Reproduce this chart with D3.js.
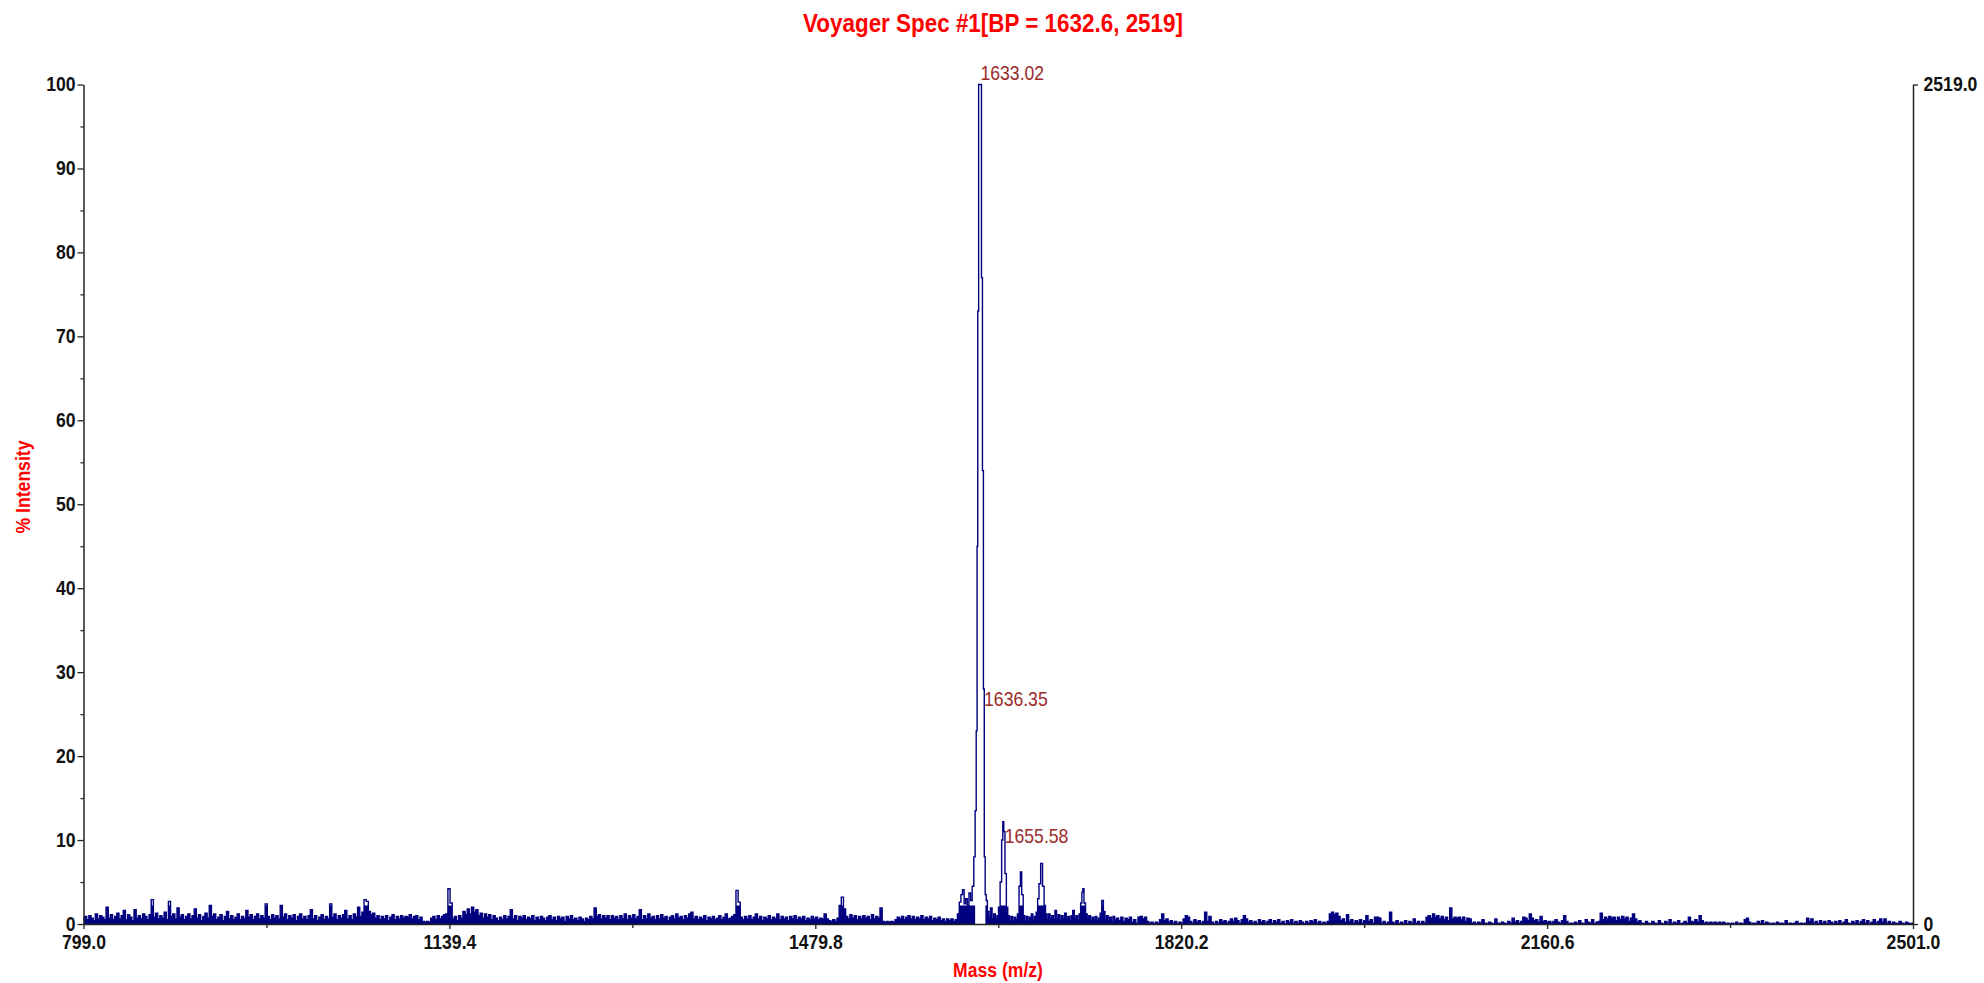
<!DOCTYPE html>
<html>
<head>
<meta charset="utf-8">
<script src="https://cdn.jsdelivr.net/npm/d3@7"></script>
<style>
  html, body { margin: 0; padding: 0; background: #fff; }
  svg { display: block; font-family: "Liberation Sans", Arial, sans-serif; }
</style>
</head>
<body>
<svg id="chart" width="1984" height="983"></svg>
<script>
// ---------------- DATA ----------------
const titleText = "Voyager Spec #1[BP = 1632.6, 2519]";
const xAxisTitle = "Mass (m/z)";
const yAxisTitle = "% Intensity";
const xDomain = [799.0, 2501.0];
const xMajorTicks = [799.0, 1139.4, 1479.8, 1820.2, 2160.6, 2501.0];
const xMinorTicks = [969.2, 1309.6, 1650.0, 1990.4, 2330.8];
const yMajorTicks = [0, 10, 20, 30, 40, 50, 60, 70, 80, 90, 100];
const yMinorTicks = [5, 15, 25, 35, 45, 55, 65, 75, 85, 95];
const rightAxisMax = 2519.0;
const rightTicks = [0, 2519.0];

// noise segments on a 2 Da m/z grid (start mass, % intensity values)
const seg1Start = 799;
const seg1 = [0.6,0.9,0.5,1.0,0.7,0.4,1.2,0.6,1.0,0.8,0.5,2.0,0.7,1.1,0.5,0.9,1.3,0.6,1.0,1.6,
0.5,1.1,0.8,0.4,1.7,0.7,1.0,0.6,1.2,0.9,0.5,1.1,2.9,0.8,1.3,0.6,1.0,0.7,1.4,0.5,
2.7,0.9,1.2,0.6,1.9,0.8,1.1,0.5,0.9,1.2,0.6,1.0,1.8,0.7,1.1,0.4,0.9,1.3,0.7,2.2,
0.9,1.2,0.5,0.8,1.1,0.4,0.9,1.5,0.6,1.0,0.5,0.8,1.2,0.5,0.9,0.6,1.6,0.8,1.1,0.5,
0.9,1.2,0.6,1.0,0.7,2.4,0.9,0.5,1.1,0.7,1.0,0.6,2.2,0.8,1.2,0.5,1.0,0.7,1.1,0.4,
0.9,1.2,0.6,0.9,0.5,1.0,1.7,0.6,1.0,0.4,0.8,1.1,0.5,0.9,0.6,2.4,0.8,1.2,0.5,1.0,
0.7,1.1,1.6,0.6,1.0,0.5,1.2,0.8,2.0,0.9,1.4,2.9,2.7,1.5,1.1,1.3,0.7,1.0,0.5,0.9,
0.6,1.0,0.4,0.8,1.1,0.5,0.9,0.6,1.0,0.7,0.9];

const seg2Start = 1101;
const seg2 = [0.8,1.1,0.6,0.9,1.0,0.5,0.8,0.3,0.2,0.3,0.2,0.7,0.9,0.5,1.0,0.6,0.9,1.1,1.2,4.2,
2.5,0.6,0.9,0.4,1.0,0.7,1.5,1.1,1.8,1.2,2.0,1.4,1.7,1.0,1.3,0.7,1.2,0.8,1.1,0.5,
1.0,0.7,0.4,0.8,0.5,1.0,0.6,0.9,1.7,0.6,1.0,0.4,0.9,0.7,1.0,0.5,0.8,0.6,1.0,0.4,
0.8,0.5,0.9,0.7,0.4,0.8,1.0,0.5,0.8,0.4,0.9,0.6,0.8,0.3,0.9,0.6,1.0,0.5,0.7,0.4,
0.8,0.6,0.3,0.7,0.5,0.9,0.6,1.9,0.9,1.1,0.6,1.0,0.7,1.0,0.5,1.0,0.7,0.9,0.5,1.0,
0.6,1.2,0.5,1.0,0.7,1.1,0.6,0.9,1.7,0.5,1.0,0.6,1.2,0.7,0.9,0.5,1.0,0.6,1.1,0.7,
0.9,0.4,0.8,1.0,0.6,1.2,0.7,0.9,0.5,1.0,0.7,1.2,1.4,0.6,0.9,0.5,0.8,0.6,1.0,0.4,
0.8,0.6,0.9,0.5,0.7,1.0,0.5,0.8,1.2,0.6];

const seg3Start = 1401;
const seg3 = [0.7,0.9,1.1,4.0,2.6,0.8,0.5,0.9,0.6,1.0,0.5,0.8,1.2,0.6,0.9,0.4,0.8,0.6,1.0,0.5,
0.8,0.6,1.2,0.5,0.9,0.6,0.8,0.4,0.9,0.6,1.0,0.5,0.8,0.6,0.9,0.4,0.7,0.5,0.9,0.6,
0.8,0.5,0.7,0.6,1.2,0.6,0.4,0.3,0.5,0.3,0.7,2.2,3.2,1.8,0.9,0.6,1.1,0.7,1.0,0.5,
0.9,0.6,1.0,0.7,0.9,0.5,1.1,0.6,0.9,0.7,1.9,0.3,0.2,0.3,0.2,0.3,0.2,0.5,0.8,0.6,
0.9,0.5,0.8,1.0,0.6,0.9,0.5,0.8,0.6,1.0,0.5,0.8,0.6,0.9,0.4,0.7,0.5,0.8,0.4,0.6,
0.3,0.6,0.4,0.6,0.3];

// main peak cluster, explicit m/z
const peakMz = [1611,1613,1614.5,1616,1617.5,1619,1620.5,1622,1623.5,1625,1626.5,1628,1629,1630,1630.6,1631.3,1632.2,1633.02,1634,1634.8,
1635.8,1636.6,1637.4,1638.3,1639.3,1640.5,1642,1643.5,1645,1646.5,1648,1649.5,1651,1652.5,1653.8,1654.7,1655.6,1656.9,1658.2,1659.5,
1661,1662.5,1664,1665.5,1667,1668.7,1670,1671.2,1672.4,1674,1675.5,1677,1678.5,1680,1681.5,1683,1684.5,1686,1687.3,1688.5,
1690.4,1692,1693.3,1694.6,1696,1697.5,1699,1700.5,1702,1703.5,1705,1706.5,1708,1709.5,1711,1712.5,1714,1715.5,1717,1718.5,
1720,1721.5,1723,1724.5,1726,1727.3,1728.3,1729.1,1730.4,1732,1733.5,1735,1736.5,1738,1739.5,1741,1742.5,1744,1745.5,1747.1,
1748.5,1750,1751.5,1753,1754.5,1756,1757.5,1759];
const peakInt = [0.5,1.2,2.6,3.5,4.1,2.4,3.0,2.2,3.7,2.8,4.5,8.0,13.5,23,45,73,100,100,100,77,
54,28,8,3.5,2.8,1.5,0.8,1.9,0.6,1.2,0.5,1.0,2.0,5.0,10.0,12.2,11.0,6.0,2.0,1.0,
0.4,0.9,0.3,0.8,0.5,1.2,4.5,6.2,3.5,1.0,0.4,0.9,0.3,0.8,1.2,0.5,0.9,1.4,3.0,4.8,
7.2,4.5,2.2,1.2,0.5,1.2,0.6,1.0,0.5,1.6,0.7,1.1,0.4,1.0,0.6,1.3,0.5,0.9,0.4,1.0,
1.6,0.6,1.0,0.5,1.2,2.5,3.8,4.2,2.5,1.2,0.6,1.0,0.4,0.8,0.5,0.9,0.4,0.7,1.3,2.8,
1.5,0.6,1.0,0.4,0.8,0.3,0.9,0.5];

const seg4Start = 1761;
const seg4 = [0.7,0.4,0.8,0.3,0.7,0.5,0.8,0.2,0.5,0.1,0.8,0.9,0.6,0.8,0.3,0.1,0.2,0.0,0.2,0.1,
0.5,1.2,0.4,0.6,0.2,0.4,0.1,0.3,0.0,0.2,0.1,0.6,1.0,0.8,0.3,0.1,0.5,0.2,0.4,0.1,
0.3,1.4,0.3,0.9,0.2,0.0,0.3,0.1,0.5,0.2,0.4,0.1,0.3,0.6,0.3,0.7,0.4,0.1,0.5,1.0,
0.6,0.2,0.4,0.1,0.3,0.0,0.5,0.2,0.4,0.1,0.3,0.5,0.1,0.4,0.2,0.5,0.1,0.3,0.0,0.4,
0.2,0.5,0.1,0.3,0.1,0.4,0.2,0.0,0.3,0.1,0.4,0.2,0.5,0.1,0.3,0.0,0.2,0.1,0.3,1.2,
1.4,1.1,1.3,0.9,0.4,0.6,0.2,1.1,0.3,0.5,0.1,0.4,0.2,0.5,0.1,0.4,1.0,0.3,0.5,0.1,
0.8,0.8,0.7,0.1,0.3,0.0,0.2,1.4,0.2,0.1,0.4,0.0,0.2,0.1,0.4,0.0,0.3,0.1,0.6,0.1,
0.3,0.0,0.3,0.1,0.8];

const seg5Start = 2051;
const seg5 = [1.0,0.7,1.2,0.8,1.0,0.6,0.9,0.5,0.8,0.4,1.9,0.6,0.8,0.7,0.8,0.5,0.8,0.3,0.7,0.6,
0.1,0.2,0.0,0.2,0.1,0.5,0.1,0.0,0.2,0.1,0.0,0.6,0.1,0.0,0.2,0.1,0.0,0.3,0.1,0.7,
0.2,0.4,0.1,0.3,0.8,0.7,0.4,1.2,0.7,0.4,0.5,0.2,0.9,0.3,0.4,0.2,0.3,0.1,0.3,0.5,
0.2,0.1,0.4,1.0,0.3,0.0,0.1,0.0,0.2,0.1,0.4,0.1,0.0,0.5,0.2,0.1,0.5,0.0,0.2,0.3,
1.3,0.5,0.8,0.6,0.9,0.7,0.8,0.4,0.8,0.5,0.9,0.6,0.8,0.3,0.7,1.2,0.6,0.2,0.4,0.1,
0.0,0.3,0.1,0.0,0.3,0.1,0.0,0.4,0.1,0.0,0.3,0.1,0.5,0.0,0.2,0.1,0.4,0.0,0.1,0.3,
0.1,0.8,0.3,0.2,0.5,0.2,1.0,0.4,0.1,0.2,0.1,0.2,0.1,0.2,0.1,0.2,0.1,0.2,0.0,0.1,
0.0,0.1,0.0,0.2,0.0,0.1,0.0,0.5,0.7,0.2,0.0,0.1,0.0,0.3,0.1,0.4,0.0,0.2,0.1,0.0,
0.1,0.0,0.2,0.0,0.1,0.0,0.4,0.0,0.1,0.0,0.1,0.3,0.0,0.1,0.0,0.1,0.7,0.3,0.6,0.1,
0.3,0.0,0.4,0.1,0.3,0.0,0.4,0.2,0.0,0.3,0.1,0.4,0.0,0.2,0.5,0.1,0.0,0.3,0.1,0.4,
0.0,0.3,0.5,0.1,0.4,0.0,0.2,0.5,0.1,0.3,0.6,0.2,0.6,0.1,0.3,0.0,0.2,0.1,0.0,0.3,
0.1,0.0,0.2,0.1,0.0,0.1];
const gridStep = 2;

// peak annotations
const labelMz = [1633.02, 1636.35, 1655.58];
const labelText = ["1633.02", "1636.35", "1655.58"];
const labelAt = [100.5, 26, 9.6];

// ---------------- BUILD ----------------
function segPoints(start, vals) { return vals.map((v, i) => ({ mz: start + gridStep * i, v })); }
const points = [].concat(
  segPoints(seg1Start, seg1),
  segPoints(seg2Start, seg2),
  segPoints(seg3Start, seg3),
  peakMz.map((m, i) => ({ mz: m, v: peakInt[i] })),
  segPoints(seg4Start, seg4),
  segPoints(seg5Start, seg5)
).sort((a, b) => a.mz - b.mz);

const W = 1984, H = 983;
const plot = { left: 83.5, right: 1913, top: 84.5, bottom: 924 };
const SQ = 0.88; // horizontal squeeze of text (source image is compressed)

const svg = d3.select("#chart");
svg.append("rect").attr("width", W).attr("height", H).attr("fill", "#fff");

const x = d3.scaleLinear().domain(xDomain).range([plot.left, plot.right]);
const y = d3.scaleLinear().domain([0, 100]).range([plot.bottom, plot.top]);
const yR = d3.scaleLinear().domain([0, rightAxisMax]).range([plot.bottom, plot.top]);

// dense noise band: fill below the trace, limited to the low band and outside the main peak
const defs = svg.append("defs");
const clip = defs.append("clipPath").attr("id", "bandClip");
clip.append("rect").attr("x", plot.left).attr("y", y(2.2))
  .attr("width", x(1628.5) - plot.left).attr("height", plot.bottom - y(2.2));
clip.append("rect").attr("x", x(1638)).attr("y", y(2.2))
  .attr("width", plot.right - x(1638)).attr("height", plot.bottom - y(2.2));

const area = d3.area().curve(d3.curveStep).x(d => x(d.mz)).y0(y(0)).y1(d => y(d.v));
svg.append("path")
  .datum(points)
  .attr("d", area)
  .attr("fill", "#000080")
  .attr("clip-path", "url(#bandClip)");

// spectrum trace (stepped profile, like the instrument trace)
const line = d3.line().curve(d3.curveStep).x(d => x(d.mz)).y(d => y(d.v));
svg.append("path")
  .datum(points)
  .attr("d", line)
  .attr("fill", "none")
  .attr("stroke", "#000080")
  .attr("stroke-width", 1.4)
  .attr("stroke-linejoin", "miter");

function styleAxis(g) {
  g.selectAll("path.domain").attr("stroke", "#222").attr("stroke-width", 1.5);
  g.selectAll(".tick line").attr("stroke", "#222").attr("stroke-width", 1.3);
  g.selectAll(".tick text")
    .attr("fill", "#111")
    .attr("font-size", 20)
    .attr("font-weight", "bold")
    .attr("font-family", "Liberation Sans, Arial, sans-serif")
    .attr("transform", `scale(${SQ},1)`);
}

// left axis minor + major
svg.append("g").attr("transform", `translate(${plot.left},0)`)
  .call(d3.axisLeft(y).tickValues(yMinorTicks).tickSize(3).tickFormat(""))
  .call(g => g.select("path.domain").remove())
  .call(styleAxis);
svg.append("g").attr("transform", `translate(${plot.left},0)`)
  .call(d3.axisLeft(y).tickValues(yMajorTicks).tickSize(6).tickSizeOuter(0).tickPadding(3).tickFormat(d3.format("d")))
  .call(styleAxis);

// bottom axis minor + major
svg.append("g").attr("transform", `translate(0,${plot.bottom})`)
  .call(d3.axisBottom(x).tickValues(xMinorTicks).tickSize(4).tickFormat(""))
  .call(g => g.select("path.domain").remove())
  .call(styleAxis);
svg.append("g").attr("transform", `translate(0,${plot.bottom})`)
  .call(d3.axisBottom(x).tickValues(xMajorTicks).tickSize(5).tickSizeOuter(0).tickPadding(6).tickFormat(d3.format(".1f")))
  .call(styleAxis);

// right axis
svg.append("g").attr("transform", `translate(${plot.right},0)`)
  .call(d3.axisRight(yR).tickValues(rightTicks).tickSize(5).tickSizeOuter(0).tickPadding(7)
    .tickFormat(d => d === 0 ? "0" : d.toFixed(1)))
  .call(styleAxis);

// squeezed text helper
function addText(tx, ty, str, opts) {
  const g = svg.append("g").attr("transform", `translate(${tx},${ty}) ${opts.rotate ? "rotate(" + opts.rotate + ")" : ""} scale(${SQ},1)`);
  g.append("text")
    .attr("x", 0).attr("y", 0)
    .attr("text-anchor", opts.anchor || "start")
    .attr("font-size", opts.size)
    .attr("font-weight", opts.weight || "normal")
    .attr("fill", opts.color)
    .attr("font-family", "Liberation Sans, Arial, sans-serif")
    .text(str);
}

// title
addText(993, 32, titleText, { size: 25.5, weight: "bold", color: "#ff0000", anchor: "middle" });
// axis titles
addText(998, 977, xAxisTitle, { size: 20, weight: "bold", color: "#ff0000", anchor: "middle" });
addText(30, 487, yAxisTitle, { size: 20, weight: "bold", color: "#ff0000", anchor: "middle", rotate: -90 });

// peak labels
labelMz.forEach((m, i) => {
  addText(x(m) + 0.5, y(labelAt[i]), labelText[i], { size: 20, color: "#9a2a2a", anchor: "start" });
});
</script>
</body>
</html>
